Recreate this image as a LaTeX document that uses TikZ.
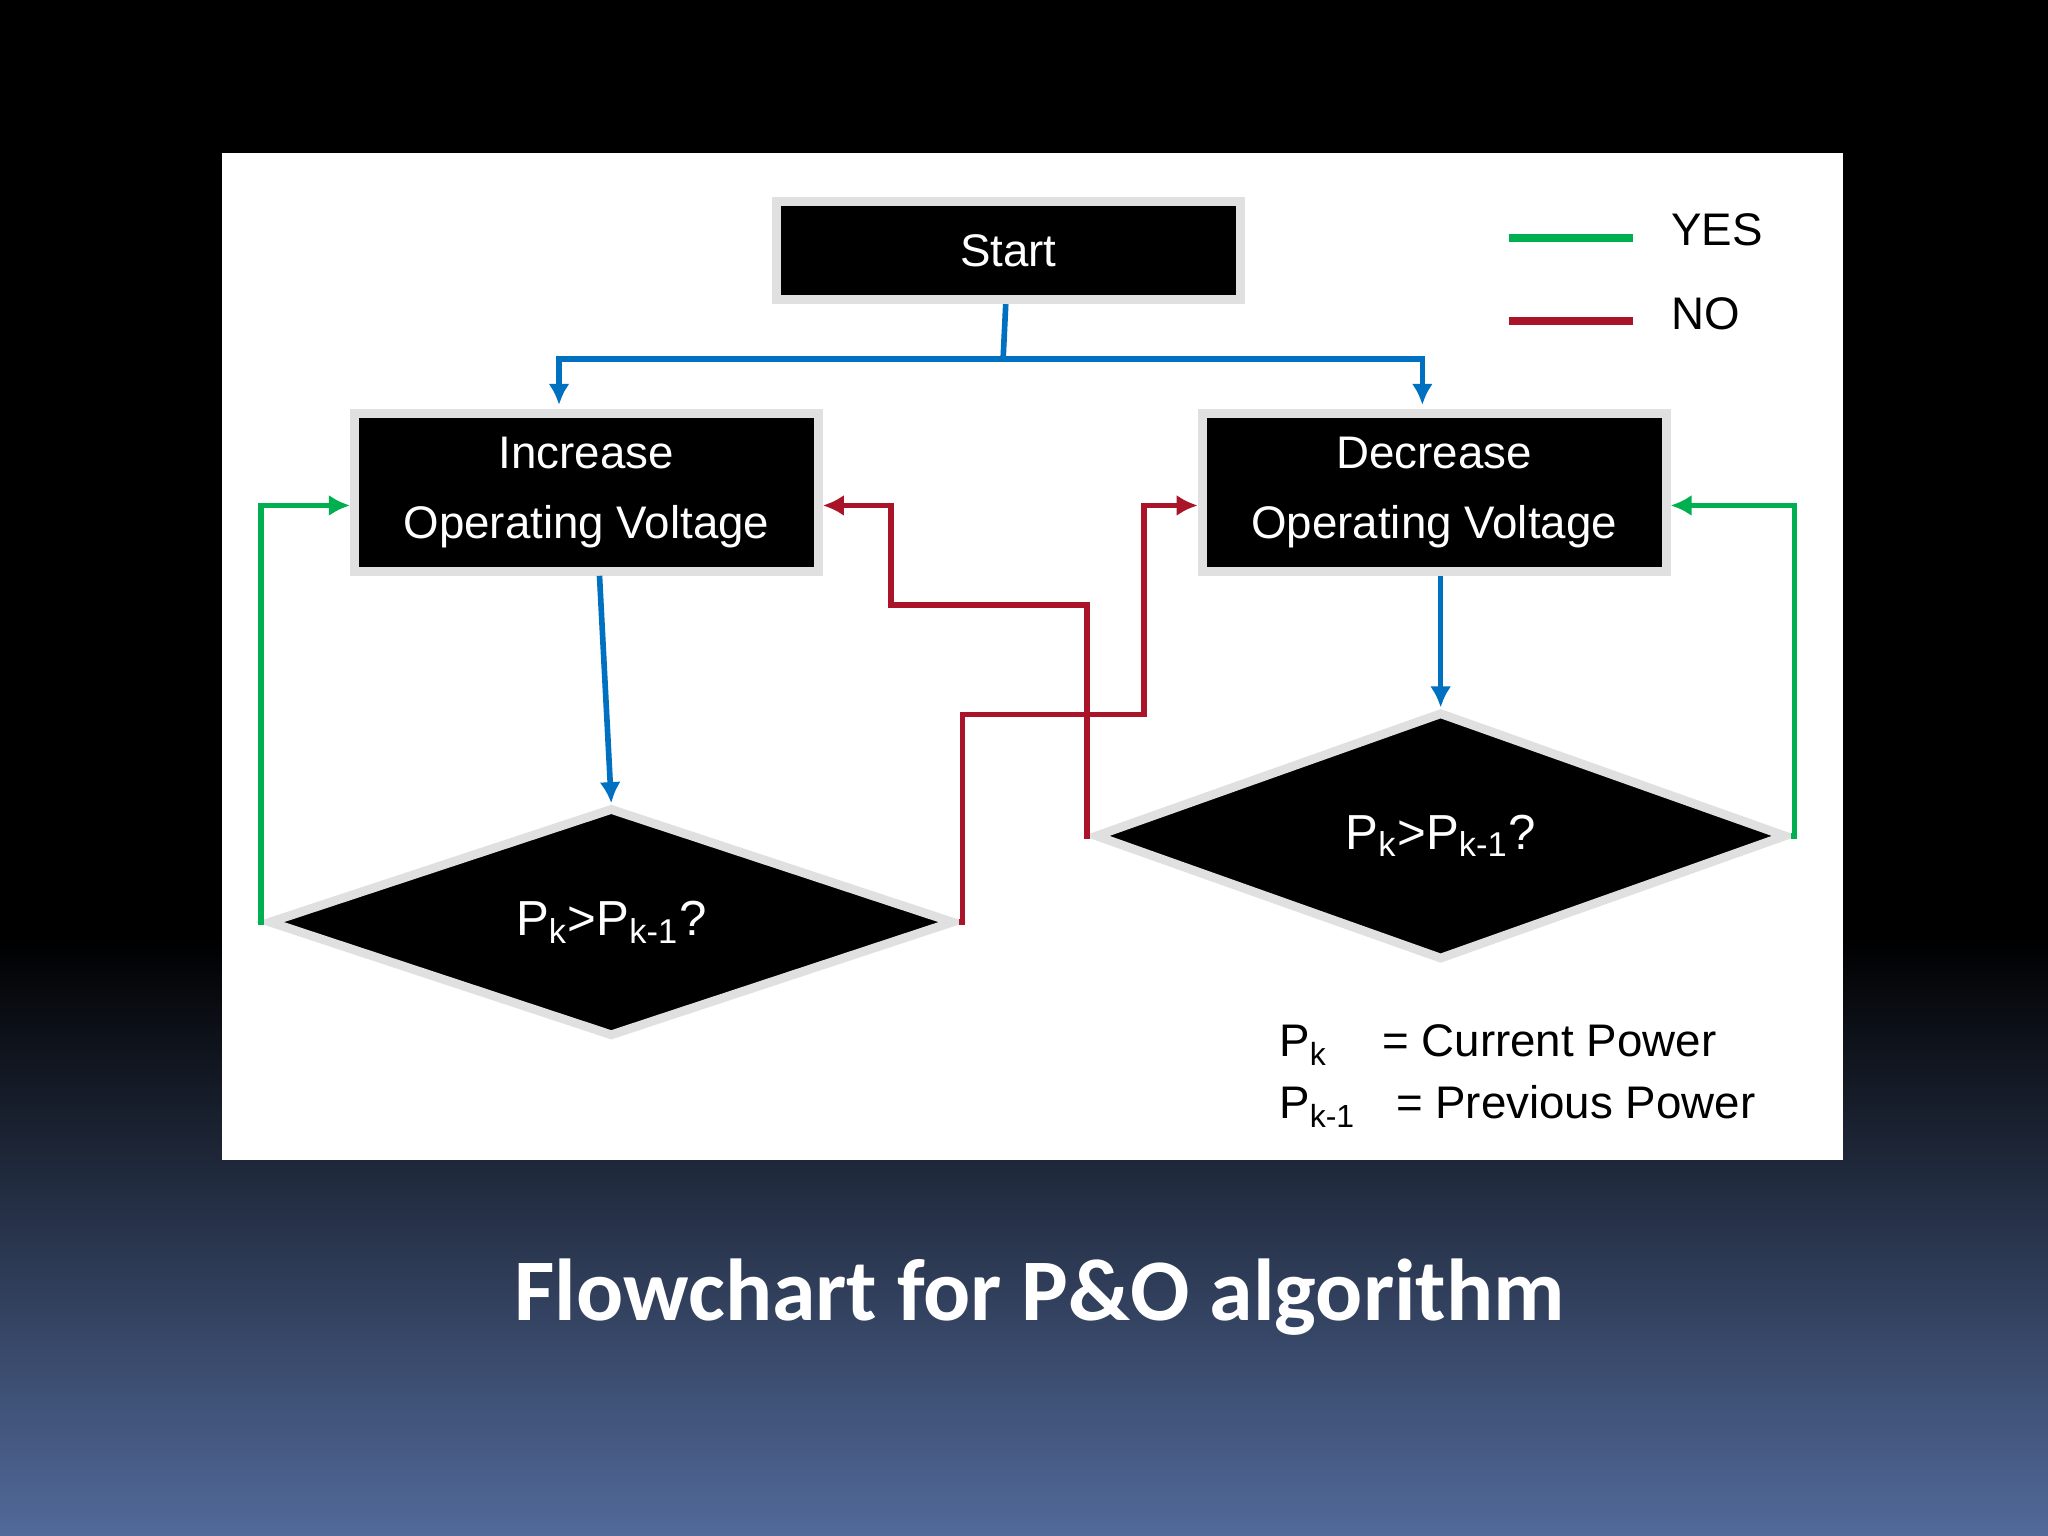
\documentclass[tikz,border=0pt]{standalone}
\usepackage{fontspec}
\setmainfont{Liberation Sans}
\newfontfamily\capfont{Carlito}
\usetikzlibrary{shapes.geometric,arrows.meta}
\definecolor{flowblue}{RGB}{0,112,192}
\definecolor{flowgreen}{RGB}{0,176,80}
\definecolor{flowred}{RGB}{170,20,40}
\definecolor{slate}{RGB}{82,106,154}
\tikzset{
  box/.style={draw=black!12, line width=2.5pt, fill=black, text=white, minimum width=4.64cm, align=center, font=\fontsize{13}{20}\selectfont},
  test/.style={diamond, draw=black!12, line width=2.5pt, fill=black, text=white, inner sep=0pt, aspect=3, font=\fontsize{14}{16}\selectfont},
  flow/.style={line width=1.6pt, -{Latex[length=6pt,width=6pt]}},
}
\begin{document}
\begin{tikzpicture}[x=0.01306cm, y=-0.01306cm]
\useasboundingbox (0,0) rectangle (1568,1176);
% background
\fill[black] (0,0) rectangle (1568,720);
\shade[top color=black, bottom color=slate] (0,719) rectangle (1568,1176);
\fill[white] (170,117) rectangle (1411,888);

\node (start) [box, minimum height=0.98cm] at (772,192) {Start};
\node (inc) [box, minimum height=1.58cm] at (449,377) {Increase\\Operating Voltage};
\node (dec) [box, minimum height=1.58cm] at (1098,377) {Decrease\\Operating Voltage};
\node (ldia) [test, minimum width=6.86cm, minimum height=2.29cm] at (468,706) {P\textsubscript{k}>P\textsubscript{k-1}?};
\node (rdia) [test, minimum width=6.92cm, minimum height=2.48cm] at (1103,640) {P\textsubscript{k}>P\textsubscript{k-1}?};

\coordinate (fork) at (768,275);
\coordinate (ra) at (737,547);
\coordinate (rb) at (876,387);
\coordinate (rc) at (832,463);
\coordinate (rd) at (682,387);
\coordinate (ga) at (200,387);
\coordinate (gb) at (1374,387);

% main flow
\draw[flowblue, line width=1.6pt] (start) -- (fork);
\draw[flow, flowblue] (fork) -| (428,310) coordinate (incin);
\draw[flow, flowblue] (fork) -| (1089,310) coordinate (decin);
\draw[flow, flowblue] (inc.south -| 459,0) -- (ldia.north);
\draw[flow, flowblue] (dec.south -| 1103,0) -- (rdia.north);
% yes
\draw[flow, flowgreen] (ldia.west) -| (ga) -- (ga -| inc.west);
\draw[flow, flowgreen] (rdia.east) -| (gb) -- (gb -| dec.east);
% no
\draw[flow, flowred] (ldia.east) -| (ra) -| (rb) -- (rb -| dec.west);
\draw[flow, flowred] (rdia.west) -| (rc) -| (rd) -- (rd -| inc.east);

% legend
\coordinate (ya) at (1155,182);
\coordinate (yb) at (1250,182);
\coordinate (na) at (1155,246);
\coordinate (nb) at (1250,246);
\draw[flowgreen, line width=2.2pt] (ya) -- (yb);
\draw[flowred, line width=2.2pt] (na) -- (nb);
\node (yes) [anchor=west, font=\fontsize{13}{15}\selectfont] at (1270,176) {YES};
\node (no) [anchor=west, font=\fontsize{13}{15}\selectfont] at (1270,240) {NO};
\node (pk) [anchor=west, font=\fontsize{13}{15}\selectfont] at (970,800) {P\textsubscript{k}\hspace{1.2em}= Current Power};
\node (pk1) [anchor=west, font=\fontsize{13}{15}\selectfont] at (970,847) {P\textsubscript{k-1}\hspace{0.6em} = Previous Power};

\node (caption) [text=white, font=\capfont\bfseries\fontsize{25}{30}\selectfont] at (796,993) {Flowchart for P\&O algorithm};
\end{tikzpicture}
\end{document}
